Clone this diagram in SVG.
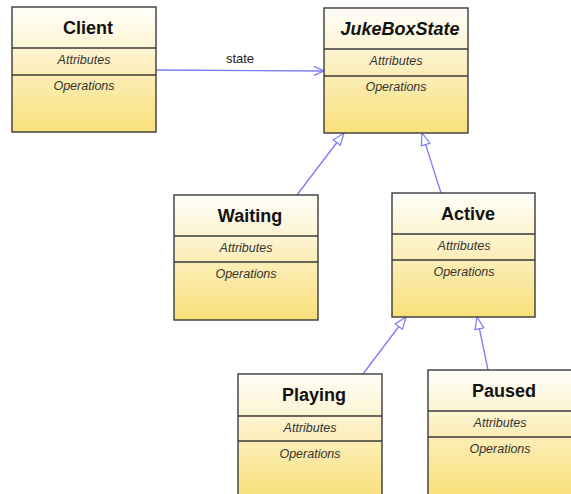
<svg xmlns="http://www.w3.org/2000/svg" width="571" height="494" viewBox="0 0 571 494">
  <defs>
    <linearGradient id="classFill" x1="0" y1="0" x2="0" y2="1">
      <stop offset="0" stop-color="#fffefa"/>
      <stop offset="0.45" stop-color="#fcf0c2"/>
      <stop offset="1" stop-color="#f9e07a"/>
    </linearGradient>
    <marker id="openArrow" viewBox="0 0 12 12" refX="11" refY="6" markerWidth="12" markerHeight="12" markerUnits="userSpaceOnUse" orient="auto">
      <path d="M1,1.5 L11,6 L1,10.5" fill="none" stroke="#7c7cf6" stroke-width="1.3"/>
    </marker>
    <marker id="hollowTriangle" viewBox="0 0 14 12" refX="13" refY="6" markerWidth="14" markerHeight="12" markerUnits="userSpaceOnUse" orient="auto">
      <path d="M1,1.5 L13,6 L1,10.5 Z" fill="#ffffff" stroke="#7c7cf6" stroke-width="1.2"/>
    </marker>
  </defs>
  <style>
    .box { fill: url(#classFill); stroke: #3a3a3a; stroke-width: 1.4; }
    .sep { stroke: #3a3a3a; stroke-width: 1.3; }
    .title { font-family: "Liberation Sans", Arial, sans-serif; font-size: 18px; font-weight: bold; fill: #111; text-anchor: middle; }
    .abstract { font-style: italic; }
    .part { font-family: "Liberation Sans", Arial, sans-serif; font-size: 12.5px; font-style: italic; fill: #333; text-anchor: middle; }
    .link { fill: none; stroke: #7c7cf6; stroke-width: 1.3; }
    .label { font-family: "Liberation Sans", Arial, sans-serif; font-size: 13px; fill: #222; text-anchor: middle; }
  </style>

  <rect width="571" height="494" fill="#ffffff"/>

  <g id="connectors">
    <line class="link" x1="156" y1="70" x2="324" y2="71" marker-end="url(#openArrow)"/>
    <text class="label" x="240" y="63">state</text>
    <line class="link" x1="297" y1="195" x2="344" y2="133" marker-end="url(#hollowTriangle)"/>
    <line class="link" x1="441" y1="193" x2="422" y2="133" marker-end="url(#hollowTriangle)"/>
    <line class="link" x1="363" y1="374" x2="406" y2="317" marker-end="url(#hollowTriangle)"/>
    <line class="link" x1="488" y1="370" x2="477" y2="317" marker-end="url(#hollowTriangle)"/>
  </g>

  <g id="client" transform="translate(12,7)">
    <rect class="box" x="0" y="0" width="144" height="125"/>
    <line class="sep" x1="0" y1="41" x2="144" y2="41"/>
    <line class="sep" x1="0" y1="68" x2="144" y2="68"/>
    <text class="title" x="76" y="27">Client</text>
    <text class="part" x="72" y="57">Attributes</text>
    <text class="part" x="72" y="83">Operations</text>
  </g>

  <g id="jukeboxstate" transform="translate(324,8)">
    <rect class="box" x="0" y="0" width="144" height="125"/>
    <line class="sep" x1="0" y1="41" x2="144" y2="41"/>
    <line class="sep" x1="0" y1="68" x2="144" y2="68"/>
    <text class="title abstract" x="76" y="27">JukeBoxState</text>
    <text class="part" x="72" y="57">Attributes</text>
    <text class="part" x="72" y="83">Operations</text>
  </g>

  <g id="waiting" transform="translate(174,195)">
    <rect class="box" x="0" y="0" width="144" height="125"/>
    <line class="sep" x1="0" y1="41" x2="144" y2="41"/>
    <line class="sep" x1="0" y1="67" x2="144" y2="67"/>
    <text class="title" x="76" y="27">Waiting</text>
    <text class="part" x="72" y="57">Attributes</text>
    <text class="part" x="72" y="83">Operations</text>
  </g>

  <g id="active" transform="translate(392,193)">
    <rect class="box" x="0" y="0" width="143" height="124"/>
    <line class="sep" x1="0" y1="41" x2="143" y2="41"/>
    <line class="sep" x1="0" y1="67" x2="143" y2="67"/>
    <text class="title" x="76" y="27">Active</text>
    <text class="part" x="72" y="57">Attributes</text>
    <text class="part" x="72" y="83">Operations</text>
  </g>

  <g id="playing" transform="translate(238,374)">
    <rect class="box" x="0" y="0" width="144" height="125"/>
    <line class="sep" x1="0" y1="42" x2="144" y2="42"/>
    <line class="sep" x1="0" y1="67" x2="144" y2="67"/>
    <text class="title" x="76" y="27">Playing</text>
    <text class="part" x="72" y="58">Attributes</text>
    <text class="part" x="72" y="84">Operations</text>
  </g>

  <g id="paused" transform="translate(428,370)">
    <rect class="box" x="0" y="0" width="144" height="125"/>
    <line class="sep" x1="0" y1="41" x2="144" y2="41"/>
    <line class="sep" x1="0" y1="67" x2="144" y2="67"/>
    <text class="title" x="76" y="27">Paused</text>
    <text class="part" x="72" y="57">Attributes</text>
    <text class="part" x="72" y="83">Operations</text>
  </g>
</svg>
